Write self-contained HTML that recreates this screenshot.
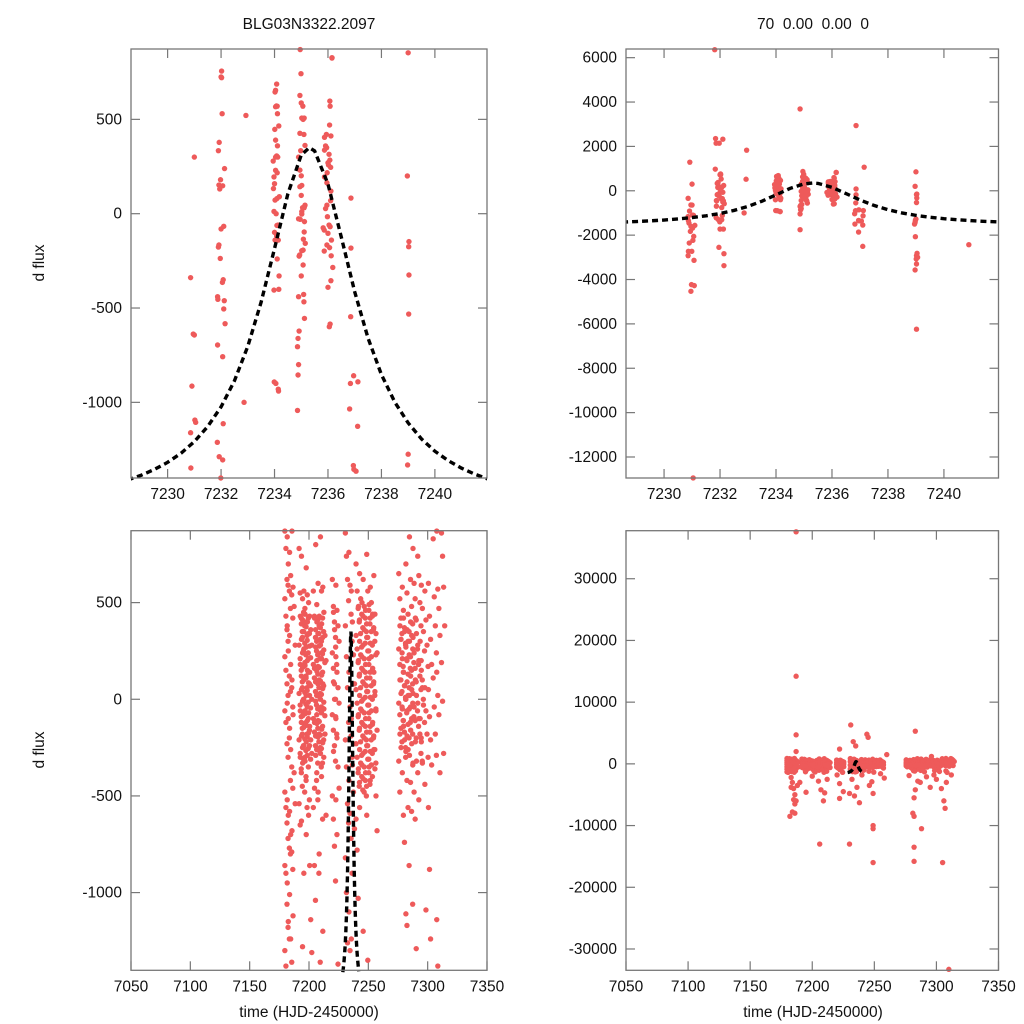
<!DOCTYPE html>
<html><head><meta charset="utf-8"><style>
html,body{margin:0;padding:0;background:#fff;width:1024px;height:1024px;overflow:hidden}
svg{display:block}
text{font-family:"Liberation Sans",sans-serif;font-size:15.5px;fill:#111}
</style></head><body>
<svg id="chart" width="1024" height="1024" viewBox="0 0 1024 1024" xmlns="http://www.w3.org/2000/svg">
<text x="309" y="29" text-anchor="middle">BLG03N3322.2097</text>
<text x="813" y="29" text-anchor="middle" xml:space="preserve">70  0.00  0.00  0</text>
<text transform="translate(44,263) rotate(-90)" text-anchor="middle">d flux</text>
<text transform="translate(44,750) rotate(-90)" text-anchor="middle">d flux</text>
<text x="309" y="1017" text-anchor="middle">time (HJD-2450000)</text>
<text x="813" y="1017" text-anchor="middle">time (HJD-2450000)</text>
</svg>
<script>
// ---- model curve ----
const modelT = [7228.5,7229,7229.5,7230,7230.5,7231,7231.5,7232,7232.5,7233,7233.5,7234,7234.5,7235,7235.3,7235.5,7236,7236.5,7237,7237.5,7238,7238.5,7239,7239.5,7240,7240.5,7241,7241.5,7242];
const modelY = [-1412,-1387,-1356,-1318,-1270,-1208,-1128,-1024,-886,-703,-468,-185,106,311,350,333,157,-125,-414,-660,-853,-999,-1109,-1194,-1259,-1309,-1349,-1381,-1407];
// ---- zoom window data ----
const zoomT = [7231.0,7230.86,7230.96,7231.0,7230.91,7231.02,7231.05,7230.86,7230.87,
7232.02,7232.0,7232.02,7232.04,7231.93,7231.9,7232.13,7231.98,7231.92,7232.06,7231.95,7232.1,7232.0,7231.92,7231.9,7231.97,7232.08,7232.05,7231.87,7231.88,7232.12,7232.1,7232.15,7231.87,7232.06,7232.08,7231.86,7231.93,7231.99,
7232.93,7232.86,
7234.08,7234.04,7234.07,7234.04,7234.11,7234.01,7234.11,7234.08,7234.04,7233.95,7234.04,7234.1,7234.0,7233.96,7234.09,7234.02,7233.98,7234.09,7234.0,7234.08,7234.14,7234.16,7233.99,7234.15,
7234.99,7234.95,7235.0,7235.02,7235.07,7235.11,7234.95,7235.14,7234.98,7234.95,7235.0,7234.95,7235.0,7235.05,7235.11,7235.02,7234.9,7235.02,7235.12,7235.11,7235.15,7235.07,7235.02,7234.94,7235.07,7234.9,7235.09,7235.1,7234.92,7234.88,7234.9,7234.86,
7236.15,7236.07,7236.06,7236.11,7235.87,7235.91,7235.95,7235.87,7236.07,7236.0,7236.02,7236.1,7235.97,7235.96,7236.1,7235.91,7235.98,7236.04,7236.08,7235.86,7236.0,7236.13,7235.96,7235.86,7236.12,7236.11,7236.05,
7236.86,7236.86,7236.85,7236.96,7237.12,7237.11,7236.97,
7239.0,7238.97,7239.03,7239.02,7239.03,7239.02,7238.98,
7230.92,7230.89,7230.96,7231.02,7230.94,7231.06,7230.9,7231.03,7230.99,7230.87,7230.86,7231.07,7231.08,7230.98,7230.96,7231.04,7231.1,
7231.81,7231.84,7231.86,7231.97,7232.1,7231.83,7232.06,7232.0,7232.12,7231.96,7232.14,7232.14,
7232.95,
7234.02,7234.1,7234.16,7234.04,7234.12,7233.98,7234.18,7234.06,7234.13,7234.02,7234.1,7234.17,7233.98,7234.05,7234.14,
7234.86,7234.96,7235.06,7235.1,7234.9,7235.02,7235.14,7234.96,7235.08,7234.92,7235.0,7235.12,7234.86,7234.88,7234.86,
7236.15,7236.08,7235.94,7236.04,7235.87,7236.11,7235.96,7235.82,7236.06,7236.18,7236.0,7236.08,
7236.86,7237.15,7236.82,7236.84,7236.81,7236.95,7237.1,7237.05,7236.95,7237.1,
7239.0,7238.97,7239.04,7239.02,7239.01,7239.02,7238.97,7239.06,7238.98,7239.02,7238.95,
7240.89];
const zoomY = [300,-339,-638,-643,-914,-1094,-1106,-1161,-1348,
756,725,721,530,378,334,239,180,152,148,131,-67,-81,-166,-177,-237,-350,-364,-440,-454,-461,-505,-583,-696,-758,-1113,-1212,-1288,-1401,
521,-1000,
687,654,571,567,530,447,360,306,300,279,230,217,159,133,80,72,12,-62,-99,-118,-140,-401,-892,-940,
742,627,587,507,500,507,426,362,334,231,201,143,97,32,32,11,-27,-2,-42,-97,-157,-193,-196,-219,-272,-440,-428,-467,-622,-661,-800,-1043,
827,597,470,412,405,359,350,337,284,270,258,246,217,164,69,27,-16,-60,-69,-87,-104,-140,-166,-198,-223,-355,-599,
83,-182,-546,-859,-891,-1127,-1355,
853,200,-148,-175,-325,-532,-1332,
1290,-1455,-1605,-1680,-1830,-2055,-2355,-2235,-2730,-2730,-2925,-3135,-4275,-4230,-4530,-12945,-1560,
6360,2355,2145,2145,2325,975,-1305,-1725,-1725,-2550,-2835,-3375,
1830,
645,570,465,390,300,195,90,0,-60,-140,-240,-330,-405,-900,-930,
3690,870,570,420,300,150,45,-30,-135,-225,-330,-555,-705,-855,-1755,
825,570,420,315,195,120,45,-75,-180,-285,-390,-585,
2940,1065,-1500,-900,-1035,-1335,-1545,-1365,-1860,-2505,
-1275,-1425,-2820,-2925,-3075,-3300,-3570,-3000,-2070,-6240,-1500,
-2430];
// ---- full season data (columns) ----
const fullCols = [7181,7183,7185,7187,7193,7195,7197,7199,7201,7205,7207,7209,7211,7213,7221,7224,7232,7235,7237,7241,7244,7247,7250,7253,7256,7277,7280,7283,7286,7289,7293,7296,7299,7302,7306,7309,7313,
7194,7196,7198,7200,7206,7208,7210,7212,7222,7243,7246,7249,7252,7255,7278,7281,7284,7287,7291,7295];
const fullVals = [
[870,780,620,590,520,430,360,300,220,150,80,20,-60,-120,-230,-300,-480,-560,-640,-720,-860,-900,-1060,-1180,-1300,-1380],
[840,700,560,470,380,250,120,40,-20,-100,-200,-420,-520,-600,-770,-800,-950,-1150,-1240],
[760,640,540,420,330,180,60,-40,-150,-260,-350,-460,-580,-700,-790,-880,-1010,-1240,-1360],
[870,580,480,280,100,-80,-380,-540,-680,-1120],
[780,550,420,350,280,210,150,90,30,-30,-90,-150,-210,-280,-360,-450,-540,-650],
[740,520,450,380,310,240,170,110,50,-10,-70,-130,-190,-250,-310,-480,-630,-1280],
[560,470,400,330,260,190,120,60,0,-60,-120,-180,-240,-300,-400,-560,-900],
[680,540,420,340,270,200,140,80,20,-40,-100,-160,-220,-290,-350,-520,-700],
[500,430,360,280,210,140,70,0,-70,-140,-210,-280,-600,-860,-1140,-1310],
[560,430,320,250,180,110,40,-30,-100,-170,-240,-420,-560,-860,-1040],
[800,490,410,340,270,200,130,60,-10,-80,-150,-220,-290,-380,-520,-900],
[600,380,310,240,170,100,30,-40,-110,-180,-250,-350,-480,-800,-1360],
[840,560,420,350,280,210,140,70,0,-70,-140,-210,-280,-400,-620],
[580,450,330,200,80,-50,-180,-600,-1200],
[620,480,400,320,240,160,80,0,-80,-160,-240,-320,-500,-620,-760,-940],
[590,460,380,300,220,140,60,-20,-100,-200,-350,-460,-520,-700,-1370],
[860,740,620,510,380,220,60,-120,-210,-350,-540,-640,-820,-1000,-1260],
[760,590,440,300,140,-40,-190,-300,-420,-590,-720,-900,-1100,-1300],
[560,400,230,80,-100,-340,-480,-670,-1240],
[700,560,470,400,330,260,190,120,50,-20,-90,-160,-230,-300,-380,-450,-620,-780,-1030],
[650,520,440,370,300,230,160,90,20,-50,-120,-190,-260,-330,-400,-470,-560],
[620,480,420,350,280,210,140,70,0,-70,-140,-210,-280,-350,-420,-500,-1200],
[750,560,460,390,320,250,180,110,40,-30,-100,-170,-240,-310,-380,-440,-600,-1350],
[580,500,430,360,290,220,150,80,10,-60,-130,-200,-270,-340,-400],
[640,440,340,240,140,40,-60,-160,-260,-360,-500,-680],
[650,520,420,340,260,180,100,40,-20,-80,-150,-220,-320,-480],
[580,460,370,290,210,140,70,10,-50,-110,-170,-250,-380,-600,-740],
[700,550,440,350,270,200,130,60,0,-60,-130,-200,-270,-420,-560,-860,-1110,-1170],
[840,620,480,390,300,220,150,80,20,-40,-100,-180,-290,-430,-580,-1060],
[780,600,520,410,320,240,160,90,30,-40,-110,-200,-330,-480,-620,-1290],
[740,640,500,380,280,200,120,50,-20,-100,-180,-280,-380,-520],
[590,470,350,250,150,60,-30,-120,-220,-330],
[560,410,280,170,60,-60,-180,-300,-440,-1090],
[600,430,310,180,50,-90,-210,-340,-560,-880,-1240],
[830,530,380,240,110,-40,-180,-290],
[870,570,470,330,140,20,-80,-380,-1140,-1380],
[860,740,580,380,190,-10,-280],
[430,390,320,250,180,120,60,0,-60,-120,-180,-240,-300,-380],
[410,350,290,230,165,100,35,-25,-85,-145,-205,-265,-330],
[440,375,305,240,175,110,45,-15,-75,-135,-195,-255,-320,-420],
[400,340,275,215,150,85,20,-45,-110,-175,-240,-310],
[420,360,300,230,160,90,20,-50,-120,-190,-260,-330,-460],
[400,340,275,210,145,80,15,-55,-125,-195,-265],
[430,370,300,235,165,95,25,-45,-115,-185,-255,-330],
[390,320,255,190,125,55,-15,-85,-155,-225,-300],
[450,360,270,180,90,0,-90,-180,-270],
[480,410,340,270,200,130,60,-10,-80,-150,-220,-290,-360,-430],
[500,430,360,290,220,150,80,10,-60,-130,-200,-270,-340,-410,-480],
[460,390,320,250,180,110,40,-30,-100,-170,-240,-310,-380,-450],
[490,420,350,280,210,140,70,0,-70,-140,-210,-280,-350,-420],
[440,370,300,230,160,90,20,-50,-120,-190,-260,-330],
[380,310,240,170,100,30,-40,-110,-180,-250],
[420,350,280,210,140,70,0,-70,-140,-210,-300],
[360,300,230,160,90,20,-50,-120,-190,-260],
[400,330,260,190,120,50,-20,-90,-160,-230,-340],
[420,340,260,180,100,20,-60,-140,-220,-320],
[300,200,100,0,-100,-200,-320]];
const outT = [7187,7187,7187,7187,7182,7184,7186,7186,7185,7184,7183,7187,7188,7195,7205,7207,7209,7210,7206,7222,7222,7222,7225,7231,7230,7230,7233,7235,7234,7238,7236,7232,7244,7245,7248,7249,7249,7249,7249,7246,7258,7260,7283,7281,7282,7282,7282,7288,7282,7283,7285,7287,7292,7295,7300,7304,7305,7306,7307,7308,7310,7298,7296,7190,7186,7183,7185,7200,7212,7220,7240,7255,7278,7312];
const outY = [37600,14200,4700,2000,-8500,-7800,-6500,-5000,-4000,-3000,-2200,-6000,-3500,-4600,-2800,-4200,-6000,-4700,-13000,-5600,-3200,2400,-4500,6300,-4800,-13000,3600,2900,-5200,-6300,-3800,-2500,4800,4300,-2900,-4800,-10000,-10500,-16000,-3500,-2300,1500,5300,-8000,-8500,-13500,-15800,-10500,-5500,-4200,-2800,-3000,-2100,-3800,-2500,-4000,-16000,-6000,-7200,-3000,-33300,-1800,1200,-3000,-8000,-3800,-5800,-2000,-2500,-1800,-1800,-1600,-1900,-1800];
// ---- tick labels ----
const ticksXZoom = [7230,7232,7234,7236,7238,7240];
const ticksXFull = [7050,7100,7150,7200,7250,7300,7350];
const ticksYTL = [-1000,-500,0,500];
const ticksYTR = [-12000,-10000,-8000,-6000,-4000,-2000,0,2000,4000,6000];
const ticksYBL = [-1000,-500,0,500];
const ticksYBR = [-30000,-20000,-10000,0,10000,20000,30000];

const NS='http://www.w3.org/2000/svg';
const svg=document.getElementById('chart');
function mk(tag,attrs,parent){const e=document.createElementNS(NS,tag);for(const k in attrs)e.setAttribute(k,attrs[k]);(parent||svg).appendChild(e);return e;}

const fullPtsT=[],fullPtsY=[];
fullCols.forEach((c,ci)=>{fullVals[ci].forEach((v,i)=>{fullPtsT.push(c+((i%4)-1.5)*0.9);fullPtsY.push(v);});});
outT.forEach((t,i)=>{fullPtsT.push(t);fullPtsY.push(outY[i]);});

function panel(p){
  const g=mk('g',{});
  
  
  const sx=v=>p.x0+(v-p.xmin)/(p.xmax-p.xmin)*(p.x1-p.x0);
  const sy=v=>p.y1-(v-p.ymin)/(p.ymax-p.ymin)*(p.y1-p.y0);
  const clipId='clip-'+p.name;
  const cp=mk('clipPath',{id:clipId},g);
  mk('rect',{x:p.x0,y:p.y0-3,width:p.x1-p.x0,height:p.y1-p.y0+6},cp);
  p.xt.forEach(v=>{
    const x=sx(v);
    const t1=mk('line',{x1:x,y1:p.y1,x2:x,y2:p.y1-9,stroke:'#777','stroke-width':1.2},g);
    
    
    mk('line',{x1:x,y1:p.y0,x2:x,y2:p.y0+9,stroke:'#777','stroke-width':1.2},g);
    const lb=mk('text',{x:x,y:p.y1+21,'text-anchor':'middle'},g);
    lb.textContent=v;
    
    
  });
  p.yt.forEach(v=>{
    const y=sy(v);
    mk('line',{x1:p.x0,y1:y,x2:p.x0+9,y2:y,stroke:'#777','stroke-width':1.2},g);
    mk('line',{x1:p.x1,y1:y,x2:p.x1-9,y2:y,stroke:'#777','stroke-width':1.2},g);
    const lb=mk('text',{x:p.x0-9,y:y+5,'text-anchor':'end'},g);
    lb.textContent=v;
    
    
  });
  const pg=mk('g',{'clip-path':'url(#'+clipId+')'},g);
  
  
  p.T.forEach((t,i)=>{
    const v=p.Y[i];
    if(t<p.xmin||t>p.xmax||v<p.ymin||v>p.ymax)return;
    const c=mk('circle',{cx:sx(t),cy:sy(v),r:2.7,fill:'#ee5a5a'},pg);
    
    
  });
  const d=modelT.map((t,i)=>(i?'L':'M')+sx(t).toFixed(2)+','+sy(modelY[i]).toFixed(2)).join('');
  const m=mk('path',{d:d,fill:'none',stroke:'#000','stroke-width':3.4,'stroke-dasharray':'6,4','clip-path':'url(#'+clipId+')'},g);
  
  
  const fr=mk('rect',{x:p.x0,y:p.y0,width:p.x1-p.x0,height:p.y1-p.y0,fill:'none',stroke:'#777','stroke-width':1.3},g);
  
  
}
panel({name:'panel-top-left',x0:131,x1:487,y0:49,y1:478,xmin:7228.63,xmax:7241.95,ymin:-1401,ymax:873,xt:ticksXZoom,yt:ticksYTL,T:zoomT,Y:zoomY});
panel({name:'panel-top-right',x0:626,x1:998.5,y0:49,y1:478,xmin:7228.64,xmax:7241.95,ymin:-12947,ymax:6391,xt:ticksXZoom,yt:ticksYTR,T:zoomT,Y:zoomY});
panel({name:'panel-bottom-left',x0:131,x1:487,y0:530.7,y1:970.3,xmin:7050,xmax:7350,ymin:-1402,ymax:872,xt:ticksXFull,yt:ticksYBL,T:fullPtsT,Y:fullPtsY});
panel({name:'panel-bottom-right',x0:626,x1:998.5,y0:530.7,y1:970.3,xmin:7050,xmax:7350,ymin:-33454,ymax:37784,xt:ticksXFull,yt:ticksYBR,T:fullPtsT,Y:fullPtsY});
</script>
</body></html>
